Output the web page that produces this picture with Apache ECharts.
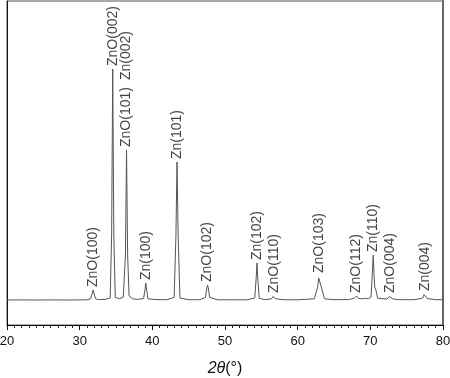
<!DOCTYPE html>
<html>
<head>
<meta charset="utf-8">
<script src="https://cdn.jsdelivr.net/npm/echarts@6/dist/echarts.min.js"></script>
<style>html,body{margin:0;padding:0;background:#fff}#c{width:450px;height:378px}</style>
</head>
<body>
<div id="c"></div>
<script>
// XRD pattern (2θ in degrees, intensity in arbitrary units)
var twoTheta = [20, 22, 24, 26, 28, 30, 31.0, 31.5, 31.7, 31.85, 32.0, 32.2, 32.6, 33.5, 34.2, 34.4, 34.55, 34.7, 34.9, 35.5, 36.0, 36.3, 36.45, 36.6, 36.8, 37.3, 38.0, 38.8, 39.0, 39.1, 39.2, 39.4, 40.5, 42, 43.0, 43.25, 43.4, 43.55, 43.8, 45, 46.5, 47.3, 47.5, 47.6, 47.7, 47.9, 49, 51, 53, 54.1, 54.3, 54.4, 54.5, 54.7, 55.5, 56.4, 56.6, 56.7, 56.8, 57.0, 58, 60, 62.3, 62.75, 62.9, 63.0, 63.1, 63.25, 63.7, 65, 67, 67.8, 68.0, 68.1, 68.2, 68.4, 68.9, 69.2, 69.3, 69.4, 69.7, 70.1, 70.3, 70.4, 70.5, 70.6, 70.7, 70.8, 71.0, 72.3, 72.6, 72.7, 72.8, 73.1, 74, 76, 77.2, 77.4, 77.5, 77.6, 77.8, 79, 80];
var intensity = [250, 251, 250, 251, 250, 251, 252, 262, 310, 350, 310, 262, 254, 256, 270, 900, 2560, 900, 275, 262, 280, 700, 1750, 700, 290, 262, 256, 265, 360, 420, 360, 262, 254, 253, 275, 900, 1630, 900, 270, 253, 253, 275, 370, 400, 370, 275, 252, 252, 252, 270, 480, 620, 480, 268, 253, 262, 285, 290, 285, 262, 253, 252, 262, 380, 470, 490, 470, 380, 262, 253, 254, 268, 288, 290, 285, 265, 262, 268, 272, 268, 262, 280, 560, 700, 520, 380, 400, 340, 268, 260, 285, 290, 285, 260, 253, 253, 268, 305, 310, 300, 265, 253, 253];

// Peak assignments
var peakNames = ['ZnO(100)', 'ZnO(002)', 'ZnO(101)', 'Zn(002)', 'Zn(100)', 'Zn(101)', 'ZnO(102)', 'Zn(102)', 'ZnO(110)', 'ZnO(103)', 'ZnO(112)', 'Zn(110)', 'ZnO(004)', 'Zn(004)'];
var peakPos = [31.85, 34.55, 36.45, 36.45, 39.1, 43.4, 47.6, 54.4, 56.7, 63.0, 68.1, 70.4, 72.7, 77.5];
var peakTop = [350, 2560, 1750, 1750, 420, 1630, 400, 620, 290, 490, 290, 700, 290, 310];

var xTicks = [20, 30, 40, 50, 60, 70, 80];

var spectrum = twoTheta.map(function (t, i) { return [t, intensity[i]]; });

var seen = {};
var labelData = peakNames.map(function (n, i) {
  var key = String(peakPos[i]);
  var stacked = seen[key] ? 1 : 0;
  seen[key] = true;
  return {
    value: [peakPos[i], peakTop[i]],
    name: n,
    label: { distance: stacked ? 70 : 3 }
  };
});

var FONT = 'Liberation Sans, Arial, sans-serif';
var chart = echarts.init(document.getElementById('c'), null, { renderer: 'canvas' });
chart.setOption({
  animation: false,
  backgroundColor: '#fff',
  grid: { left: 7, right: 7, top: 1, bottom: 53, show: true, borderColor: '#555', borderWidth: 1,
          containLabel: false, outerBoundsMode: 'none' },
  xAxis: {
    type: 'value', min: xTicks[0], max: xTicks[xTicks.length - 1], interval: 10,
    axisLine: { show: true, lineStyle: { color: '#111', width: 1 } },
    axisTick: { show: true, inside: false, length: 5, lineStyle: { color: '#111', width: 1 } },
    minorTick: { show: true, splitNumber: 10, length: 3, lineStyle: { color: '#222', width: 1 } },
    splitLine: { show: false },
    axisLabel: { color: '#111', fontSize: 13, fontFamily: FONT, margin: 10 },
    name: '{i|2θ}{n|(°)}',
    nameLocation: 'middle', nameGap: 36,
    nameTextStyle: {
      rich: {
        i: { fontSize: 16, fontStyle: 'italic', color: '#111', fontFamily: FONT },
        n: { fontSize: 16, color: '#111', fontFamily: FONT }
      }
    }
  },
  yAxis: [{
    type: 'value', min: 0, max: 3240,
    axisLine: { show: true, lineStyle: { color: '#111', width: 1 } },
    axisTick: { show: false }, axisLabel: { show: false }, splitLine: { show: false }
  }, {
    type: 'value', min: 0, max: 3240, position: 'right',
    axisLine: { show: true, lineStyle: { color: '#666', width: 2 } },
    axisTick: { show: false }, axisLabel: { show: false }, splitLine: { show: false }
  }],
  series: [{
    type: 'line', data: spectrum, showSymbol: false, symbol: 'none',
    lineStyle: { color: '#555', width: 1 }, clip: true
  }, {
    type: 'scatter', data: labelData, symbolSize: 0, silent: true,
    label: {
      show: true, position: 'top', rotate: 90, align: 'left', verticalAlign: 'middle',
      formatter: function (p) { return p.name; },
      color: '#111', fontSize: 14, fontFamily: FONT
    }
  }]
});
</script>
</body>
</html>
